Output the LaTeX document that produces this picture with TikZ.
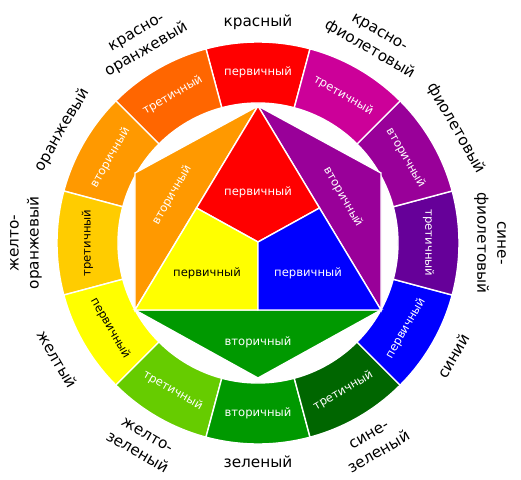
\documentclass[tikz,border=0pt]{standalone}
\usepackage{fontspec}
\setmainfont{DejaVu Sans}
\usepackage{tikz}
\usetikzlibrary{calc}

\definecolor{cRed}{HTML}{FF0000}
\definecolor{cRedOrange}{HTML}{FF6600}
\definecolor{cOrange}{HTML}{FF9900}
\definecolor{cYellowOrange}{HTML}{FFCC00}
\definecolor{cYellow}{HTML}{FFFF00}
\definecolor{cYellowGreen}{HTML}{66CC00}
\definecolor{cGreen}{HTML}{009900}
\definecolor{cBlueGreen}{HTML}{006600}
\definecolor{cBlue}{HTML}{0000FF}
\definecolor{cBlueViolet}{HTML}{660099}
\definecolor{cViolet}{HTML}{990099}
\definecolor{cRedViolet}{HTML}{CC0099}

\tikzset{
  sector/.style={draw=white, line width=1.4pt},
  ringlbl/.style={font=\fontsize{11.6}{14}\selectfont, text=white},
  namelbl/.style={font=\fontsize{15.3}{20}\selectfont, align=center, text=black},
}

\begin{document}
\begin{tikzpicture}[x=1pt, y=1pt]
    \useasboundingbox (-258,-236) rectangle (263,243);

    % draw outer ring, one sector per colour
    \filldraw[sector, fill=cRed]          (75:140)  -- (75:201)  arc [radius=201, start angle=75,  delta angle=30] -- (105:140) arc [radius=140, start angle=105, delta angle=-30] -- cycle;
    \filldraw[sector, fill=cRedOrange]    (105:140) -- (105:201) arc [radius=201, start angle=105, delta angle=30] -- (135:140) arc [radius=140, start angle=135, delta angle=-30] -- cycle;
    \filldraw[sector, fill=cOrange]       (135:140) -- (135:201) arc [radius=201, start angle=135, delta angle=30] -- (165:140) arc [radius=140, start angle=165, delta angle=-30] -- cycle;
    \filldraw[sector, fill=cYellowOrange] (165:140) -- (165:201) arc [radius=201, start angle=165, delta angle=30] -- (195:140) arc [radius=140, start angle=195, delta angle=-30] -- cycle;
    \filldraw[sector, fill=cYellow]       (195:140) -- (195:201) arc [radius=201, start angle=195, delta angle=30] -- (225:140) arc [radius=140, start angle=225, delta angle=-30] -- cycle;
    \filldraw[sector, fill=cYellowGreen]  (225:140) -- (225:201) arc [radius=201, start angle=225, delta angle=30] -- (255:140) arc [radius=140, start angle=255, delta angle=-30] -- cycle;
    \filldraw[sector, fill=cGreen]        (255:140) -- (255:201) arc [radius=201, start angle=255, delta angle=30] -- (285:140) arc [radius=140, start angle=285, delta angle=-30] -- cycle;
    \filldraw[sector, fill=cBlueGreen]    (285:140) -- (285:201) arc [radius=201, start angle=285, delta angle=30] -- (315:140) arc [radius=140, start angle=315, delta angle=-30] -- cycle;
    \filldraw[sector, fill=cBlue]         (315:140) -- (315:201) arc [radius=201, start angle=315, delta angle=30] -- (345:140) arc [radius=140, start angle=345, delta angle=-30] -- cycle;
    \filldraw[sector, fill=cBlueViolet]   (345:140) -- (345:201) arc [radius=201, start angle=345, delta angle=30] -- (15:140)  arc [radius=140, start angle=15,  delta angle=-30] -- cycle;
    \filldraw[sector, fill=cViolet]       (15:140)  -- (15:201)  arc [radius=201, start angle=15,  delta angle=30] -- (45:140)  arc [radius=140, start angle=45,  delta angle=-30] -- cycle;
    \filldraw[sector, fill=cRedViolet]    (45:140)  -- (45:201)  arc [radius=201, start angle=45,  delta angle=30] -- (75:140)  arc [radius=140, start angle=75,  delta angle=-30] -- cycle;

    % labels inside the ring
    \node[ringlbl]                        (rRed)          at (90:170.5)  {первичный};
    \node[ringlbl, rotate=30]             (rRedOrange)    at (120:170.5) {третичный};
    \node[ringlbl, rotate=60]             (rOrange)       at (150:170.5) {вторичный};
    \node[ringlbl, rotate=90, text=black] (rYellowOrange) at (180:170.5) {третичный};
    \node[ringlbl, rotate=-60, text=black](rYellow)       at (210:170.5) {первичный};
    \node[ringlbl, rotate=-30]            (rYellowGreen)  at (240:170.5) {третичный};
    \node[ringlbl]                        (rGreen)        at (270:170.5) {вторичный};
    \node[ringlbl, rotate=30]             (rBlueGreen)    at (300:170.5) {третичный};
    \node[ringlbl, rotate=60]             (rBlue)         at (330:170.5) {первичный};
    \node[ringlbl, rotate=-90]            (rBlueViolet)   at (0:170.5)   {третичный};
    \node[ringlbl, rotate=-60]            (rViolet)       at (30:170.5)  {вторичный};
    \node[ringlbl, rotate=-30]            (rRedViolet)    at (60:170.5)  {третичный};

    % colour names round the ring
    \node[namelbl]             (nRed)          at (90:221)  {красный};
    \node[namelbl, rotate=30]  (nRedOrange)    at (120:232) {красно-\\оранжевый};
    \node[namelbl, rotate=60]  (nOrange)       at (150:226) {оранжевый};
    \node[namelbl, rotate=90]  (nYellowOrange) at (180:232) {желто-\\оранжевый};
    \node[namelbl, rotate=-60] (nYellow)       at (210:232) {желтый};
    \node[namelbl, rotate=-30] (nYellowGreen)  at (240:232) {желто-\\зеленый};
    \node[namelbl]             (nGreen)        at (270:219) {зеленый};
    \node[namelbl, rotate=30]  (nBlueGreen)    at (300:232) {сине-\\зеленый};
    \node[namelbl, rotate=60]  (nBlue)         at (330:226) {синий};
    \node[namelbl, rotate=-90] (nBlueViolet)   at (0:232)   {сине-\\фиолетовый};
    \node[namelbl, rotate=-60] (nViolet)       at (30:229)  {фиолетовый};
    \node[namelbl, rotate=-30] (nRedViolet)    at (60:232)  {красно-\\фиолетовый};

    % hexagon corners and the inner triangle
    \coordinate (hT)  at (0,137);
    \coordinate (hUL) at (-123,70);
    \coordinate (hLL) at (-123,-67);
    \coordinate (hB)  at (0,-135);
    \coordinate (hLR) at (123,-67);
    \coordinate (hUR) at (123,70);
    \coordinate (hC)  at (0,1);
    \coordinate (mL)  at ($(hT)!0.5!(hLL)$);
    \coordinate (mR)  at ($(hT)!0.5!(hLR)$);
    \coordinate (mB)  at ($(hLL)!0.5!(hLR)$);

    % draw secondary triangles
    \filldraw[sector, fill=cOrange] (hT) -- (hUL) -- (hLL) -- cycle;
    \filldraw[sector, fill=cViolet] (hT) -- (hUR) -- (hLR) -- cycle;
    \filldraw[sector, fill=cGreen]  (hLL) -- (hLR) -- (hB) -- cycle;

    % draw primary triangle
    \filldraw[sector, fill=cRed]    (hT) -- (mR) -- (hC) -- (mL) -- cycle;
    \filldraw[sector, fill=cYellow] (mL) -- (hC) -- (mB) -- (hLL) -- cycle;
    \filldraw[sector, fill=cBlue]   (mR) -- (hLR) -- (mB) -- (hC) -- cycle;

    % labels in the hexagon
    \node[ringlbl]              (tRed)    at (0,51)    {первичный};
    \node[ringlbl, text=black]  (tYellow) at (-51,-30) {первичный};
    \node[ringlbl]              (tBlue)   at (50,-30)  {первичный};
    \node[ringlbl]              (tGreen)  at (0,-99)   {вторичный};
    \node[ringlbl, rotate=60]   (tOrange) at (-86,48)  {вторичный};
    \node[ringlbl, rotate=-60]  (tViolet) at (85,46)   {вторичный};

\end{tikzpicture}
\end{document}
